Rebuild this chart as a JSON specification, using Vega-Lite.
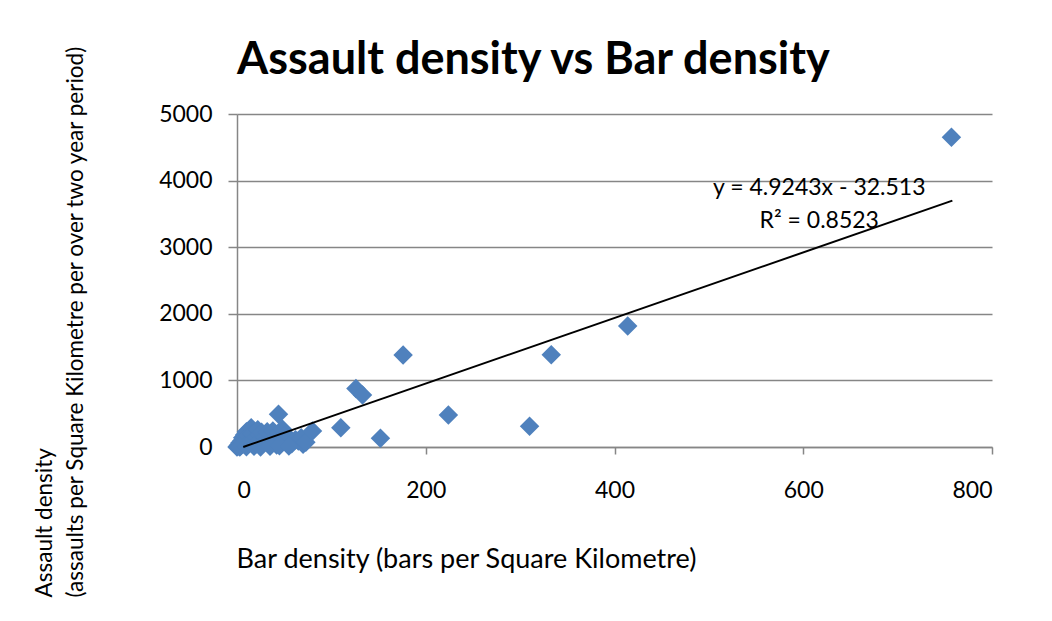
{
  "$schema": "https://vega.github.io/schema/vega-lite/v6.json",
  "autosize": {"type": "none"},
  "padding": {"left": 237, "top": 114, "right": 60, "bottom": 174},
  "width": 755,
  "height": 333,
  "background": "white",
  "config": {"view": {"stroke": null}},
  "title": {
    "text": "Assault density vs Bar density",
    "anchor": "start",
    "frame": "group",
    "font": "Lato",
    "fontSize": 45,
    "fontWeight": "bold",
    "color": "black",
    "baseline": "alphabetic",
    "offset": 41,
    "dy": 116
  },
  "datasets": {
    "pts": [
      {"bars": 0, "assaults": 0}, {"bars": 1, "assaults": 10}, {"bars": 2, "assaults": 30}, {"bars": 3, "assaults": 60},
      {"bars": 4, "assaults": 20}, {"bars": 5, "assaults": 90}, {"bars": 6, "assaults": 140}, {"bars": 7, "assaults": 50},
      {"bars": 8, "assaults": 180}, {"bars": 9, "assaults": 110}, {"bars": 10, "assaults": 230}, {"bars": 12, "assaults": 160},
      {"bars": 13, "assaults": 70}, {"bars": 15, "assaults": 290}, {"bars": 16, "assaults": 200}, {"bars": 18, "assaults": 120},
      {"bars": 20, "assaults": 40}, {"bars": 22, "assaults": 260}, {"bars": 24, "assaults": 180}, {"bars": 26, "assaults": 220},
      {"bars": 28, "assaults": 90}, {"bars": 30, "assaults": 150}, {"bars": 32, "assaults": 230}, {"bars": 34, "assaults": 60},
      {"bars": 36, "assaults": 190}, {"bars": 38, "assaults": 240}, {"bars": 40, "assaults": 120}, {"bars": 42, "assaults": 30},
      {"bars": 44, "assaults": 490}, {"bars": 45, "assaults": 210}, {"bars": 48, "assaults": 270}, {"bars": 50, "assaults": 160},
      {"bars": 52, "assaults": 80}, {"bars": 55, "assaults": 140}, {"bars": 58, "assaults": 50}, {"bars": 62, "assaults": 110},
      {"bars": 65, "assaults": 90}, {"bars": 68, "assaults": 140}, {"bars": 70, "assaults": 40}, {"bars": 73, "assaults": 70},
      {"bars": 3, "assaults": 0}, {"bars": 10, "assaults": 5}, {"bars": 18, "assaults": 10}, {"bars": 25, "assaults": 0},
      {"bars": 35, "assaults": 10}, {"bars": 45, "assaults": 20}, {"bars": 55, "assaults": 15},
      {"bars": 80, "assaults": 240}, {"bars": 110, "assaults": 290}, {"bars": 126, "assaults": 880}, {"bars": 133, "assaults": 780},
      {"bars": 152, "assaults": 130}, {"bars": 176, "assaults": 1380}, {"bars": 224, "assaults": 480}, {"bars": 310, "assaults": 310},
      {"bars": 333, "assaults": 1385}, {"bars": 414, "assaults": 1815}, {"bars": 757, "assaults": 4650}
    ],
    "trend": [
      {"bars": 6.6, "assaults": 0},
      {"bars": 758, "assaults": 3700}
    ],
    "note": [
      {"bars": 617, "assaults": 3790, "label": ["y = 4.9243x - 32.513", "R² = 0.8523"]}
    ]
  },
  "layer": [
    {
      "data": {"name": "pts"},
      "mark": {"type": "point", "shape": "diamond", "filled": true, "color": "#4F81BD", "opacity": 1, "size": 380, "strokeWidth": 0},
      "encoding": {
        "x": {
          "field": "bars", "type": "quantitative",
          "scale": {"domain": [0, 800], "nice": false, "zero": false},
          "axis": {
            "values": [0, 200, 400, 600, 800],
            "grid": false,
            "domainColor": "#868686", "domainWidth": 1.5,
            "tickColor": "#868686", "tickWidth": 1.5, "tickSize": 7,
            "labelFont": "Lato", "labelFontSize": 23, "labelColor": "black", "labelPadding": 25,
            "title": "Bar density (bars per Square Kilometre)",
            "titleFont": "Lato", "titleFontSize": 27, "titleFontWeight": "normal", "titleColor": "black",
            "titleX": 229, "titleY": 120, "titleAlign": "center", "titleBaseline": "alphabetic"
          }
        },
        "y": {
          "field": "assaults", "type": "quantitative",
          "scale": {"domain": [0, 5000], "nice": false, "zero": false},
          "axis": {
            "values": [0, 500, 1000, 1500, 2000, 2500, 3000, 3500, 4000, 4500, 5000],
            "format": "d",
            "grid": true, "gridColor": "#868686", "gridWidth": 1.5,
            "domainColor": "#868686", "domainWidth": 1.5,
            "tickColor": "#868686", "tickWidth": 1.5, "tickSize": 9,
            "labelFont": "Lato", "labelFontSize": 23, "labelColor": "black", "labelPadding": 16,
            "title": ["Assault density", "(assaults per Square Kilometre per over two year period)"],
            "titleFont": "Lato", "titleFontSize": 22.5, "titleFontWeight": "normal", "titleColor": "black",
            "titleAngle": 270, "titleAlign": "left", "titleBaseline": "alphabetic",
            "titleX": -186, "titleY": 483, "titleLineHeight": 31
          }
        }
      }
    },
    {
      "data": {"name": "trend"},
      "mark": {"type": "line", "color": "black", "strokeWidth": 2},
      "encoding": {
        "x": {"field": "bars", "type": "quantitative"},
        "y": {"field": "assaults", "type": "quantitative"}
      }
    },
    {
      "data": {"name": "note"},
      "mark": {"type": "text", "font": "Lato", "fontSize": 23, "color": "black", "align": "center", "baseline": "alphabetic", "lineHeight": 33},
      "encoding": {
        "x": {"field": "bars", "type": "quantitative"},
        "y": {"field": "assaults", "type": "quantitative"},
        "text": {"field": "label"}
      }
    }
  ]
}
